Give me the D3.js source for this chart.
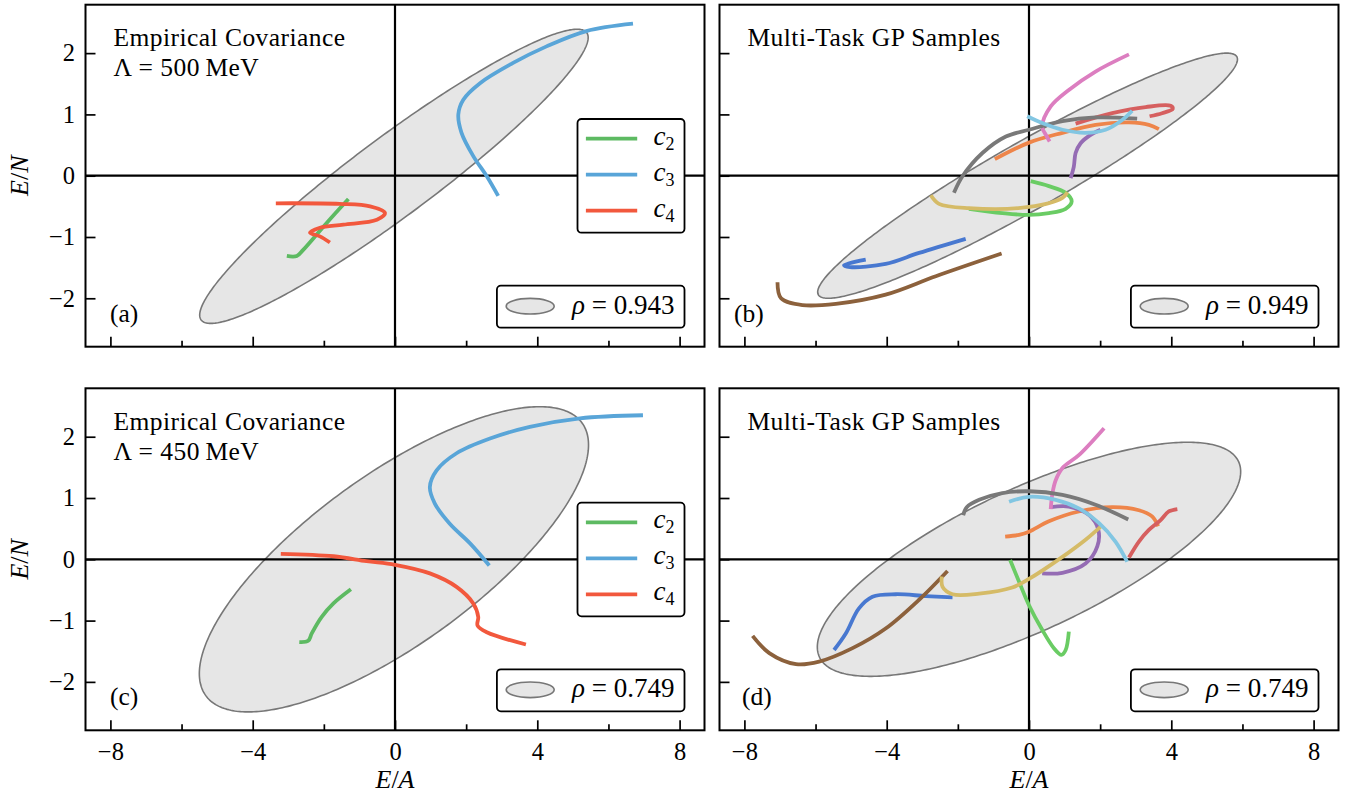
<!DOCTYPE html>
<html>
<head>
<meta charset="utf-8">
<script src="https://cdn.jsdelivr.net/npm/d3@7"></script>
<style>
  body { margin: 0; background: #fff; }
  svg { display: block; }
</style>
</head>
<body>
<svg id="chart" width="1354" height="797" font-family="Liberation Serif"></svg>
<script>
// ---- axes ----
const xDomain = [-8.7, 8.7];
const yDomain = [-2.79, 2.79];
const xTicksMajor = [-8, -4, 0, 4, 8];
const xTicksMinor = [-6, -2, 2, 6];
const yTicks = [-2, -1, 0, 1, 2];

// ---- panel annotations ----
const panelLetters = ["(a)", "(b)", "(c)", "(d)"];
const panelTitles = [
  ["Empirical Covariance", "Λ = 500\u2009MeV"],
  ["Multi-Task GP Samples"],
  ["Empirical Covariance", "Λ = 450\u2009MeV"],
  ["Multi-Task GP Samples"]
];

// ---- covariance ellipses (half extents along x and y, correlation) ----
const rhoValues = [0.943, 0.949, 0.749, 0.749];
const ellipseHalfWidth = [5.46, 5.90, 5.47, 5.95];
const ellipseHalfHeight = [2.40, 2.00, 2.49, 1.91];
const ellipseCenterX = [-0.03, -0.04, -0.03, 0.0];
const ellipseCenterY = [-0.01, 0.0, 0.0, 0.0];

// ---- coefficient trajectories, Λ = 500 MeV ----
const aC2 = [[-3.04,-1.31],[-2.76,-1.31],[-2.58,-1.21],[-1.92,-0.77],[-1.31,-0.38]];
const aC3 = [[6.69,2.48],[5.38,2.36],[4.26,2.11],[3.32,1.84],[2.39,1.51],[1.92,1.24],[1.78,1.00],[1.87,0.70],[2.20,0.32],[2.58,-0.01],[2.90,-0.33]];
const aC4 = [[-3.35,-0.45],[-1.55,-0.46],[-0.70,-0.50],[-0.28,-0.61],[-0.51,-0.72],[-1.45,-0.80],[-2.11,-0.85],[-2.39,-0.93],[-2.11,-0.99],[-1.83,-1.09]];

// ---- coefficient trajectories, Λ = 450 MeV ----
const cC2 = [[-2.69,-1.35],[-2.44,-1.33],[-2.34,-1.21],[-2.06,-0.94],[-1.73,-0.72],[-1.24,-0.49]];
const cC3 = [[6.97,2.35],[5.20,2.30],[3.79,2.16],[2.67,1.97],[1.73,1.73],[1.17,1.45],[0.98,1.18],[1.12,0.91],[1.54,0.58],[2.11,0.26],[2.65,-0.10]];
const cC4 = [[-3.21,0.09],[-1.73,0.05],[-0.80,-0.03],[0,-0.09],[0.98,-0.23],[1.73,-0.45],[2.20,-0.72],[2.34,-0.94],[2.32,-1.08],[2.58,-1.19],[3.68,-1.39]];

const coeffLabels = ["2", "3", "4"];
const coeffColors = ["#5dba62", "#59a5d8", "#f2583d"];

// ---- multi-task GP samples, ρ = 0.949 ----
const bBlue   = [[-4.59,-1.37],[-5.20,-1.46],[-5.03,-1.49],[-4.03,-1.44],[-3.09,-1.26],[-1.78,-1.03]];
const bOrange = [[-0.96,0.27],[0,0.54],[0.94,0.70],[1.87,0.83],[2.81,0.87],[3.37,0.83],[3.65,0.76]];
const bGreen  = [[0.05,-0.09],[0.56,-0.17],[1.03,-0.28],[1.20,-0.42],[1.03,-0.54],[0.56,-0.61],[0,-0.64],[-0.75,-0.61],[-1.69,-0.54]];
const bRed    = [[1.31,0.85],[2.34,1.02],[3.28,1.12],[3.98,1.14],[4.04,1.09],[3.74,1.02],[3.39,0.97]];
const bPurple = [[1.17,-0.04],[1.26,0.15],[1.31,0.37],[1.45,0.53],[1.69,0.65],[2.01,0.75]];
const bBrown  = [[-7.07,-1.74],[-6.97,-2.00],[-6.37,-2.11],[-5.43,-2.09],[-4.03,-1.94],[-2.62,-1.64],[-0.77,-1.27]];
const bPink   = [[2.81,1.98],[1.87,1.70],[1.12,1.40],[0.61,1.13],[0.37,0.80],[0.47,0.67],[0.58,0.56]];
const bGray   = [[-2.11,-0.28],[-1.87,-0.01],[-1.31,0.37],[-0.65,0.64],[0,0.75],[0.94,0.89],[1.87,0.95],[3.04,0.93]];
const bOlive  = [[-2.76,-0.32],[-2.53,-0.46],[-1.69,-0.53],[0,-0.51],[0.94,-0.36],[1.08,-0.27]];
const bCyan   = [[-0.05,0.97],[0.37,0.86],[0.94,0.75],[1.59,0.70],[2.15,0.75],[2.62,0.91],[2.90,1.06]];

// ---- multi-task GP samples, ρ = 0.749 ----
const dBlue   = [[-5.48,-1.48],[-5.15,-1.21],[-4.78,-0.80],[-4.40,-0.61],[-3.74,-0.57],[-2.90,-0.60],[-2.15,-0.62]];
const dOrange = [[-0.67,0.37],[-0.28,0.40],[0,0.45],[0.56,0.62],[1.40,0.78],[2.34,0.85],[3.09,0.80],[3.46,0.70],[3.63,0.54]];
const dGreen  = [[-0.53,-0.01],[-0.27,-0.38],[0,-0.75],[0.37,-1.15],[0.70,-1.45],[0.91,-1.56],[1.03,-1.48],[1.12,-1.18]];
const dRed    = [[2.81,0.03],[3.09,0.29],[3.37,0.48],[3.70,0.64],[3.93,0.78],[4.17,0.82]];
const dPurple = [[0.61,0.85],[1.12,0.86],[1.69,0.72],[1.95,0.48],[1.92,0.21],[1.59,-0.07],[0.94,-0.22],[0.37,-0.23]];
const dBrown  = [[-7.77,-1.25],[-7.30,-1.53],[-6.55,-1.71],[-5.90,-1.67],[-4.96,-1.45],[-4.03,-1.13],[-3.09,-0.66],[-2.29,-0.19]];
const dPink   = [[2.11,2.14],[1.40,1.70],[0.94,1.49],[0.75,1.29],[0.66,1.08],[0.61,0.82]];
const dGray   = [[-1.85,0.72],[-1.75,0.85],[-1.40,0.97],[-0.75,1.08],[0,1.11],[0.94,1.05],[1.87,0.89],[2.79,0.65]];
const dOlive  = [[-2.45,-0.28],[-2.43,-0.45],[-2.15,-0.57],[-1.40,-0.56],[-0.47,-0.46],[0,-0.32],[0.94,0.04],[1.59,0.32],[2.01,0.53]];
const dCyan   = [[-0.56,0.94],[0,1.02],[0.75,0.97],[1.40,0.83],[1.97,0.59],[2.43,0.29],[2.76,-0.04]];

const sampleColors = ["#4878d0", "#ee854a", "#6acc64", "#d65f5f", "#956cb4",
                      "#8c613c", "#dc7ec0", "#797979", "#d5bb67", "#82c6e2"];

// ---- figure layout ----
const FONT = "Liberation Serif";
const columns = [{ x0: 85.5, x1: 704.5 }, { x0: 719.5, x1: 1338.5 }];
const rows = [{ y0: 4.7, y1: 346.7 }, { y0: 388.3, y1: 730.3 }];

const panels = [
  { col: 0, row: 0, curves: [aC2, aC3, aC4], colors: coeffColors, coeffLegend: true },
  { col: 1, row: 0, curves: [bBlue, bOrange, bGreen, bRed, bPurple, bBrown, bPink, bGray, bOlive, bCyan], colors: sampleColors, coeffLegend: false },
  { col: 0, row: 1, curves: [cC2, cC3, cC4], colors: coeffColors, coeffLegend: true },
  { col: 1, row: 1, curves: [dBlue, dOrange, dGreen, dRed, dPurple, dBrown, dPink, dGray, dOlive, dCyan], colors: sampleColors, coeffLegend: false }
];
const letterX = [110, 734, 110, 742];

const svg = d3.select("#chart");
const minus = s => String(s).replace("-", "\u2212");
const addText = (sel) => sel.append("text").attr("font-family", FONT).attr("fill", "#000");

function ellipsePoints(i) {
  const a = ellipseHalfWidth[i], b = ellipseHalfHeight[i], r = rhoValues[i];
  const s = Math.sqrt(1 - r * r);
  return d3.range(0, 361).map(deg => {
    const t = deg * Math.PI / 180;
    return [ellipseCenterX[i] + a * Math.cos(t),
            ellipseCenterY[i] + b * (r * Math.cos(t) + s * Math.sin(t))];
  });
}

panels.forEach((p, i) => {
  const c = columns[p.col], rw = rows[p.row];
  const x = d3.scaleLinear().domain(xDomain).range([c.x0, c.x1]);
  const y = d3.scaleLinear().domain(yDomain).range([rw.y1, rw.y0]);
  const g = svg.append("g");

  const clipId = "clip" + i;
  g.append("clipPath").attr("id", clipId).append("rect")
    .attr("x", c.x0).attr("y", rw.y0).attr("width", c.x1 - c.x0).attr("height", rw.y1 - rw.y0);
  const plot = g.append("g").attr("clip-path", `url(#${clipId})`);

  // covariance ellipse
  const ellLine = d3.line().x(d => x(d[0])).y(d => y(d[1])).curve(d3.curveLinearClosed);
  plot.append("path").attr("d", ellLine(ellipsePoints(i)))
    .attr("fill", "#e6e6e6").attr("stroke", "#777").attr("stroke-width", 1.6);

  // zero lines
  plot.append("line").attr("x1", c.x0).attr("x2", c.x1).attr("y1", y(0)).attr("y2", y(0))
    .attr("stroke", "#000").attr("stroke-width", 2.2);
  plot.append("line").attr("x1", x(0)).attr("x2", x(0)).attr("y1", rw.y0).attr("y2", rw.y1)
    .attr("stroke", "#000").attr("stroke-width", 2.2);

  // trajectories
  const curveLine = d3.line().x(d => x(d[0])).y(d => y(d[1])).curve(d3.curveCatmullRom.alpha(0.5));
  p.curves.forEach((pts, k) => {
    plot.append("path").attr("d", curveLine(pts))
      .attr("fill", "none").attr("stroke", p.colors[k]).attr("stroke-width", 3.8)
      .attr("stroke-linecap", "butt").attr("stroke-linejoin", "round");
  });

  // title text
  panelTitles[i].forEach((t, k) => {
    addText(g).attr("x", c.x0 + 28).attr("y", rw.y0 + 41.5 + k * 30)
      .attr("font-size", 25.5).attr("letter-spacing", 0.45).text(t);
  });
  addText(g).attr("x", letterX[i]).attr("y", rw.y0 + 317)
    .attr("font-size", 25.5).text(panelLetters[i]);

  // coefficient legend
  if (p.coeffLegend) {
    const lg = g.append("g");
    lg.append("rect").attr("x", c.x1 - 127).attr("y", rw.y0 + 114.3)
      .attr("width", 107).attr("height", 113.7).attr("rx", 4)
      .attr("fill", "#fff").attr("stroke", "#000").attr("stroke-width", 1.8);
    coeffLabels.forEach((lab, k) => {
      const ly = rw.y0 + 134 + k * 36;
      lg.append("line").attr("x1", c.x1 - 118.6).attr("x2", c.x1 - 67.3)
        .attr("y1", ly).attr("y2", ly).attr("stroke", coeffColors[k]).attr("stroke-width", 3.8);
      const t = addText(lg).attr("x", c.x1 - 51).attr("y", ly + 6).attr("font-size", 27);
      t.append("tspan").attr("font-style", "italic").text("c");
      t.append("tspan").attr("font-size", 18).attr("dy", 5).text(lab);
    });
  }

  // correlation legend
  const rg = g.append("g");
  rg.append("rect").attr("x", c.x1 - 207.6).attr("y", rw.y0 + 281)
    .attr("width", 187.6).attr("height", 42).attr("rx", 4)
    .attr("fill", "#fff").attr("stroke", "#000").attr("stroke-width", 1.8);
  rg.append("ellipse").attr("cx", c.x1 - 174.3).attr("cy", rw.y0 + 301.5)
    .attr("rx", 24).attr("ry", 7.8)
    .attr("fill", "#e6e6e6").attr("stroke", "#777").attr("stroke-width", 1.6);
  const rt = addText(rg).attr("x", c.x1 - 30).attr("y", rw.y0 + 309)
    .attr("font-size", 27).attr("text-anchor", "end");
  rt.append("tspan").attr("font-style", "italic").text("ρ");
  rt.append("tspan").text(" = " + rhoValues[i].toFixed(3));

  // frame
  g.append("rect").attr("x", c.x0).attr("y", rw.y0)
    .attr("width", c.x1 - c.x0).attr("height", rw.y1 - rw.y0)
    .attr("fill", "none").attr("stroke", "#000").attr("stroke-width", 2);

  // ticks (pointing inward)
  const showX = p.row === 1, showY = p.col === 0;
  const xMajor = d3.axisBottom(x).tickValues(xTicksMajor).tickSize(-10).tickPadding(12)
    .tickFormat(d => showX ? minus(d) : "");
  const xMinor = d3.axisBottom(x).tickValues(xTicksMinor).tickSize(-6).tickFormat("");
  const yAxis = d3.axisLeft(y).tickValues(yTicks).tickSize(-10).tickPadding(10.5)
    .tickFormat(d => showY ? minus(d) : "");
  [xMajor, xMinor].forEach(ax => {
    const a = g.append("g").attr("transform", `translate(0,${rw.y1})`).call(ax);
    a.attr("font-family", FONT);
    a.select(".domain").remove();
    a.selectAll(".tick line").attr("stroke", "#000").attr("stroke-width", 1.7);
    a.selectAll(".tick text").attr("font-size", 24.5).attr("font-family", FONT);
  });
  const ya = g.append("g").attr("transform", `translate(${c.x0},0)`).call(yAxis);
  ya.attr("font-family", FONT);
  ya.select(".domain").remove();
  ya.selectAll(".tick line").attr("stroke", "#000").attr("stroke-width", 1.7);
  ya.selectAll(".tick text").attr("font-size", 24.5).attr("font-family", FONT);

  // axis titles
  if (showY) {
    const yl = addText(g)
      .attr("transform", `translate(28,${(rw.y0 + rw.y1) / 2}) rotate(-90)`)
      .attr("text-anchor", "middle").attr("font-size", 26);
    yl.append("tspan").attr("font-style", "italic").text("E");
    yl.append("tspan").text("/");
    yl.append("tspan").attr("font-style", "italic").text("N");
  }
  if (showX) {
    const xl = addText(g).attr("x", x(0)).attr("y", 788)
      .attr("text-anchor", "middle").attr("font-size", 26);
    xl.append("tspan").attr("font-style", "italic").text("E");
    xl.append("tspan").text("/");
    xl.append("tspan").attr("font-style", "italic").text("A");
  }
});
</script>
</body>
</html>
